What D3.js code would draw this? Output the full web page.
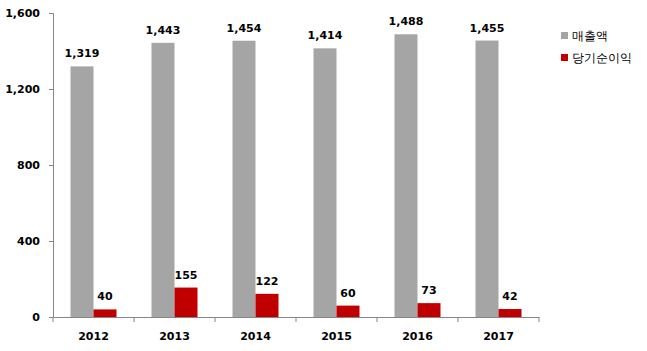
<!DOCTYPE html>
<html>
<head>
<meta charset="utf-8">
<script src="https://cdn.jsdelivr.net/npm/d3@7"></script>
<style>
	body { margin: 0; background: #fff; }
	svg text { font-family: "DejaVu Sans", Tahoma, sans-serif; }
</style>
</head>
<body>
<svg id="chart" width="647" height="351"></svg>
<script>
var years = ['2012', '2013', '2014', '2015', '2016', '2017'];
var sales = [1319, 1443, 1454, 1414, 1488, 1455];
var netIncome = [40, 155, 122, 60, 73, 42];
var yTicks = [0, 400, 800, 1200, 1600];
var seriesNames = ['매출액', '당기순이익'];
var seriesColors = ['#a5a5a5', '#c00000'];

var margin = {top: 13, right: 108, bottom: 34, left: 53},
	svg = d3.select('#chart'),
	width = +svg.attr('width') - margin.left - margin.right,
	height = +svg.attr('height') - margin.top - margin.bottom,
	g = svg.append('g').attr('transform', 'translate(' + margin.left + ',' + margin.top + ')');

var x = d3.scaleBand().domain(years).range([0, width]);
var inner = d3.scaleBand().domain([0, 1]).range([x.bandwidth() / 2 - 23, x.bandwidth() / 2 + 23]);
var y = d3.scaleLinear().domain([0, 1600]).range([height, 0]);

// y axis
var yAxis = g.append('g')
	.call(d3.axisLeft(y).tickValues(yTicks).tickFormat(d3.format(',')).tickSize(4).tickPadding(9));
yAxis.select('.domain').attr('stroke', '#868686');
yAxis.selectAll('.tick line').attr('stroke', '#868686');
yAxis.selectAll('.tick text').attr('font-size', 11).attr('font-weight', 'bold').attr('fill', '#000');

// bars
var series = [sales, netIncome];
series.forEach(function(values, s) {
	var data = years.map(function(yr, i) { return {year: yr, value: values[i]}; });
	g.selectAll('rect.s' + s)
		.data(data)
		.enter().append('rect')
		.attr('class', 's' + s)
		.attr('x', function(d) { return x(d.year) + inner(s); })
		.attr('width', inner.bandwidth())
		.attr('y', function(d) { return y(d.value); })
		.attr('height', function(d) { return height - y(d.value); })
		.attr('fill', seriesColors[s]);

	g.selectAll('text.l' + s)
		.data(data)
		.enter().append('text')
		.attr('class', 'l' + s)
		.attr('x', function(d) { return x(d.year) + inner(s) + inner.bandwidth() / 2; })
		.attr('y', function(d) { return y(d.value) - 9; })
		.attr('text-anchor', 'middle')
		.attr('font-size', 11)
		.attr('font-weight', 'bold')
		.text(function(d) { return d3.format(',')(d.value); });
});

// x axis
var xAxis = g.append('g')
	.attr('transform', 'translate(0,' + height + ')')
	.call(d3.axisBottom(x).tickSize(0).tickPadding(15));
xAxis.select('.domain').attr('stroke', '#868686');
xAxis.selectAll('.tick text').attr('font-size', 11).attr('font-weight', 'bold').attr('fill', '#000');
xAxis.selectAll('line.sep')
	.data(d3.range(years.length + 1))
	.enter().append('line')
	.attr('class', 'sep')
	.attr('x1', function(i) { return i * x.step(); })
	.attr('x2', function(i) { return i * x.step(); })
	.attr('y1', 0).attr('y2', 5)
	.attr('stroke', '#868686');

// legend
var legend = svg.append('g').attr('transform', 'translate(561,32)');
seriesNames.forEach(function(name, i) {
	var row = legend.append('g').attr('transform', 'translate(0,' + (i * 22) + ')');
	row.append('rect').attr('width', 7).attr('height', 7).attr('fill', seriesColors[i]);
	row.append('text')
		.attr('x', 11).attr('y', 4).attr('dy', '0.35em')
		.attr('font-size', 12)
		.text(name);
});
</script>
</body>
</html>
